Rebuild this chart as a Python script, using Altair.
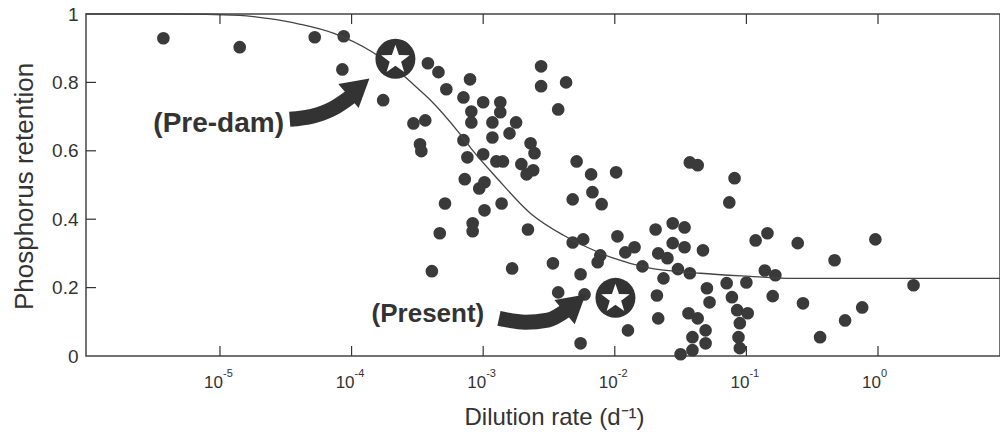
import altair as alt
import pandas as pd

# ---- scatter: log10 of dilution rate (d^-1) and phosphorus retention ----
dil_log10 = [
    -5.43, -4.85, -4.28, -4.06, -4.07, -3.76, -3.53, -3.44, -3.48, -3.47,
    -3.42, -3.34, -3.28, -3.10, -3.15, -3.00, -2.87, -2.87, -3.09, -3.09,
    -2.93, -2.75, -2.80, -2.93, -3.15, -3.12, -3.00, -2.90, -2.85, -2.64,
    -2.61, -2.71, -2.67, -2.62, -3.14, -2.99, -3.03, -3.29, -2.99, -2.86,
    -3.08, -3.08, -3.33, -2.66, -3.39, -2.56, -2.56, -2.37, -2.43, -2.29,
    -2.18, -1.99, -2.32, -2.17, -2.10, -2.78, -2.47, -2.32, -2.24, -2.11,
    -2.13, -1.98, -1.92, -1.85, -1.79, -1.69, -1.56, -1.47, -1.56, -1.47,
    -1.67, -1.60, -1.52, -1.43, -1.33, -1.63, -1.68, -1.67, -2.26, -2.43,
    -2.23, -1.90, -2.26, -1.44, -1.37, -1.31, -1.41, -1.31, -1.41, -1.50,
    -1.30, -1.28, -1.43, -1.37, -1.09, -1.13, -0.93, -0.84, -0.61, -0.33,
    -0.02, 0.27, -0.86, -0.78, -1.00, -1.15, -1.11, -1.07, -1.05, -1.06,
    -1.05, -0.99, -0.80, -0.57, -0.12, -0.25, -0.44,
]
retention = [
    0.929, 0.903, 0.932, 0.935, 0.838, 0.748, 0.680, 0.689, 0.619, 0.599,
    0.856, 0.830, 0.780, 0.809, 0.756, 0.742, 0.742, 0.713, 0.715, 0.683,
    0.683, 0.683, 0.651, 0.639, 0.631, 0.581, 0.590, 0.569, 0.569, 0.622,
    0.593, 0.561, 0.531, 0.543, 0.517, 0.508, 0.490, 0.446, 0.426, 0.446,
    0.388, 0.365, 0.359, 0.370, 0.248, 0.847, 0.789, 0.800, 0.721, 0.569,
    0.531, 0.537, 0.458, 0.479, 0.444, 0.256, 0.271, 0.332, 0.341, 0.294,
    0.274, 0.350, 0.303, 0.318, 0.262, 0.370, 0.388, 0.376, 0.330, 0.318,
    0.300, 0.286, 0.254, 0.242, 0.309, 0.227, 0.177, 0.110, 0.239, 0.186,
    0.180, 0.075, 0.037, 0.125, 0.110, 0.075, 0.055, 0.037, 0.017, 0.005,
    0.198, 0.157, 0.566, 0.558, 0.520, 0.449, 0.338, 0.359, 0.330, 0.280,
    0.341, 0.207, 0.250, 0.236, 0.215, 0.213, 0.172, 0.134, 0.096, 0.055,
    0.023, 0.125, 0.175, 0.154, 0.142, 0.104, 0.055,
]

# ---- fitted curve ----
curve_log10 = [-6.02, -5.36, -4.85, -4.64, -4.39, -4.14, -3.84, -3.68, -3.53,
               -3.40, -3.18, -3.08, -2.90, -2.64, -2.39, -2.21, -2.01, -1.76,
               -1.35, -0.97, -0.65, 0.93]
curve_ret = [1.0, 1.0, 0.996, 0.987, 0.970, 0.944, 0.888, 0.844, 0.794,
             0.748, 0.651, 0.601, 0.522, 0.417, 0.353, 0.318, 0.286, 0.259,
             0.242, 0.233, 0.227, 0.227]

# ---- highlighted states ----
star_log10 = [-3.667, -1.995]
star_ret = [0.869, 0.170]

label_text = ["(Pre-dam)", "(Present)"]
label_log10 = [-5.01, -3.42]
label_ret = [0.677, 0.124]

# arrow bodies
arrow_id = ["pre", "pre", "pre", "pre", "now", "now", "now", "now"]
arrow_log10 = [-4.47, -4.30, -4.14, -4.00, -2.88, -2.68, -2.51, -2.36]
arrow_ret = [0.692, 0.701, 0.724, 0.760, 0.110, 0.099, 0.105, 0.136]
# arrow heads
head_log10 = [-3.944, -2.302]
head_ret = [0.786, 0.154]

x_tick_exps = [-5, -4, -3, -2, -1, 0]
y_tick_vals = [0.2, 0.4, 0.6, 0.8]
y_label_vals = [0, 0.2, 0.4, 0.6, 0.8, 1]

FONT = "Liberation Sans"
INK = "#333333"

pts = pd.DataFrame({"rate": [10 ** e for e in dil_log10], "ret": retention})
curve = pd.DataFrame({"rate": [10 ** e for e in curve_log10], "ret": curve_ret})
stars = pd.DataFrame({"rate": [10 ** e for e in star_log10], "ret": star_ret})
labels = pd.DataFrame({"rate": [10 ** e for e in label_log10], "ret": label_ret,
                       "txt": label_text})
arrows = pd.DataFrame({"rate": [10 ** e for e in arrow_log10], "ret": arrow_ret,
                       "arrow": arrow_id, "idx": list(range(len(arrow_id)))})
heads = pd.DataFrame({"rate": [10 ** e for e in head_log10], "ret": head_ret})
xt = pd.DataFrame({"rate": [10.0 ** e for e in x_tick_exps],
                   "base": ["10"] * len(x_tick_exps),
                   "sup": [str(e) for e in x_tick_exps]})
yt = pd.DataFrame({"ret": y_tick_vals})

xscale = alt.Scale(type="log", domain=[10 ** -6.018, 10 ** 0.927], nice=False)
yscale = alt.Scale(domain=[0, 1], nice=False)

X = alt.X("rate:Q", scale=xscale,
          axis=alt.Axis(labels=False, ticks=False, domain=False, grid=False,
                        title="Dilution rate (d⁻¹)", titleFont=FONT,
                        titleFontSize=24, titleFontWeight="normal",
                        titleColor=INK, titleX=468, titleY=61,
                        titleBaseline="middle", titleAlign="center"))
Y = alt.Y("ret:Q", scale=yscale,
          axis=alt.Axis(values=y_label_vals, format=".1~f", ticks=False,
                        domain=False, grid=False, labelFont=FONT,
                        labelFontSize=19, labelColor=INK, labelPadding=8,
                        labelOverlap=False,
                        title="Phosphorus retention", titleFont=FONT,
                        titleFontSize=26, titleFontWeight="normal",
                        titleColor=INK, titleX=-62, titleY=172,
                        titleAngle=-90, titleBaseline="middle",
                        titleAlign="center"))

dots = alt.Chart(pts).mark_circle(size=160, color="#3a3a3a", opacity=1).encode(x=X, y=Y)
line = alt.Chart(curve).mark_line(color="#444444", strokeWidth=1.3,
                                  interpolate="monotone").encode(x=X, y=Y)
rings = alt.Chart(stars).mark_point(shape="circle", filled=True, size=1600,
                                    color=INK, opacity=1).encode(x=X, y=Y)
star_path = ("M0,-1L0.235,-0.324L0.951,-0.309L0.380,0.124L0.588,0.809L0,0.4"
             "L-0.588,0.809L-0.380,0.124L-0.951,-0.309L-0.235,-0.324Z")
star = alt.Chart(stars).mark_point(shape=star_path, filled=True, size=900,
                                   color="white", opacity=1, yOffset=1).encode(x=X, y=Y)
arrow_body = alt.Chart(arrows).mark_line(color=INK, strokeWidth=15,
                                         strokeCap="butt", interpolate="monotone").encode(
    x=X, y=Y, detail="arrow:N", order="idx:Q")
arrow_head = alt.Chart(heads).mark_point(shape="triangle-up", filled=True,
                                         size=1000, angle=50, color=INK,
                                         opacity=1).encode(x=X, y=Y)
ann_pre = alt.Chart(labels).transform_filter(alt.datum.txt == "(Pre-dam)").mark_text(
    font=FONT, fontSize=28, fontWeight="bold", color=INK, baseline="middle").encode(
    x=X, y=Y, text="txt:N")
ann_now = alt.Chart(labels).transform_filter(alt.datum.txt == "(Present)").mark_text(
    font=FONT, fontSize=26, fontWeight="bold", color=INK, baseline="middle").encode(
    x=X, y=Y, text="txt:N")

bottom_ticks = alt.Chart(xt).mark_rule(color=INK, strokeWidth=1.2).encode(
    x=X, y=alt.value(342), y2=alt.value(332))
top_ticks = alt.Chart(xt).mark_rule(color=INK, strokeWidth=1.2).encode(
    x=X, y=alt.value(0), y2=alt.value(10))
left_ticks = alt.Chart(yt).mark_rule(color=INK, strokeWidth=1.2).encode(
    y=Y, x=alt.value(0), x2=alt.value(10))
xlab = alt.Chart(xt).mark_text(font=FONT, fontSize=17, color=INK, align="right",
                               baseline="middle", dx=3).encode(
    x=X, y=alt.value(369), text="base:N")
xsup = alt.Chart(xt).mark_text(font=FONT, fontSize=11, color=INK, align="left",
                               baseline="middle", dx=3).encode(
    x=X, y=alt.value(360), text="sup:N")

chart = alt.layer(
    dots, line, rings, star, arrow_body, arrow_head, ann_pre, ann_now,
    bottom_ticks, top_ticks, left_ticks, xlab, xsup
).properties(
    width=914, height=342,
    autosize=alt.AutoSizeParams(type="none"),
    padding={"left": 86, "top": 14, "right": 0, "bottom": 88},
    background="white",
).configure_view(stroke="#444444", strokeWidth=1.5)

chart.save("out.html", embed_options={"renderer": "svg", "actions": False})
